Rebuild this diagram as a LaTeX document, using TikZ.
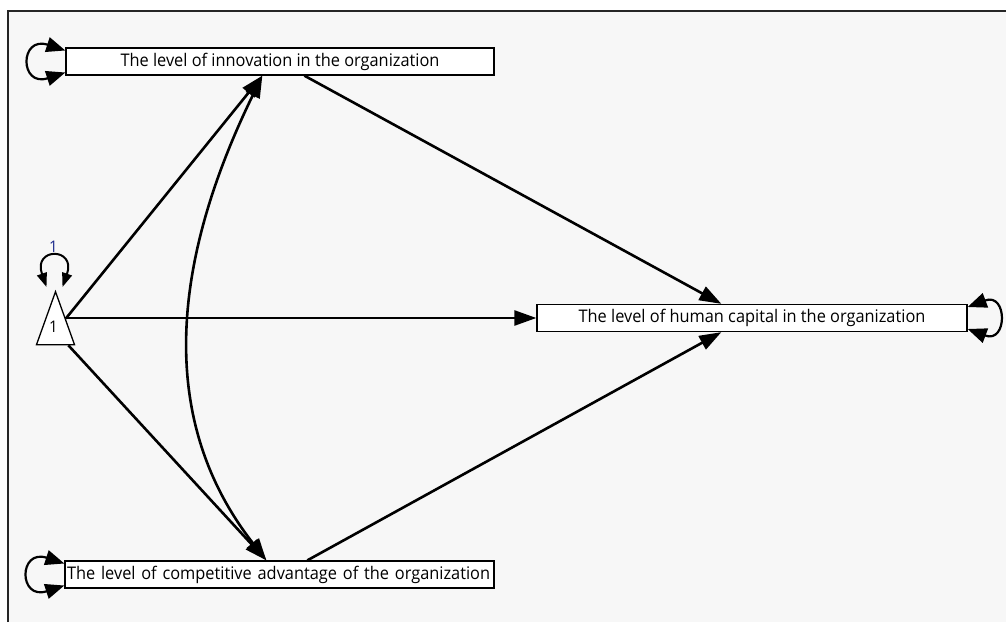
\documentclass[tikz,border=0pt]{standalone}
\usepackage{fontspec}
\setmainfont{Open Sans}[FakeStretch=0.94]
\usetikzlibrary{arrows.meta, shapes.geometric}

\definecolor{panel}{HTML}{F7F7F7}
\definecolor{varblue}{HTML}{1C2A8C}

\begin{document}
\begin{tikzpicture}[x=1pt, y=1pt, line width=2.6pt,
    varbox/.style={draw, line width=1.3pt, fill=white, minimum height=27pt, inner sep=2pt,
        font=\fontsize{17.4}{20}\selectfont},
    regpath/.style={-{Triangle[length=22pt, width=15pt]}},
    covpath/.style={{Triangle[length=22pt, width=15pt]}-{Triangle[length=22pt, width=15pt]}},
    varloop/.style={{Triangle[length=19pt, width=15pt]}-{Triangle[length=19pt, width=15pt]}, line width=2.2pt},
    smallloop/.style={{Triangle[length=14pt, width=10pt]}-{Triangle[length=14pt, width=10pt]}, line width=2pt}]
    \useasboundingbox (0, 0) rectangle (1006, 622);

    % grey panel with its frame on the left and top
    \fill[white] (0, 0) rectangle (1006, 622);
    \fill[panel] (8, 0) rectangle (1006, 611);
    \draw[line width=2pt, black!85] (8, 0) -- (8, 611) -- (1006, 611);

    % observed variables
    \node[varbox, minimum width=428pt] (innov) at (280, 560.5) {The level of innovation in the organization};
    \node[varbox, minimum width=430pt] (human) at (752, 304) {The level of human capital in the organization};
    \node[varbox, text width=425pt, align=left] (compet) at (279.5, 47.5) {The level of competitive advantage of the organization};

    % constant
    \node[isosceles triangle, shape border rotate=90, isosceles triangle stretches, anchor=apex,
        minimum width=38pt, minimum height=53pt, draw, line width=1.3pt, fill=white, inner sep=0pt] (one) at (55.5, 332) {};
    \node[font=\fontsize{16}{18}\selectfont] (onetxt) at ([xshift=-2pt, yshift=-37pt]one.apex) {1};
    \node[text=varblue, font=\fontsize{16}{18}\selectfont] (onevar) at ([xshift=-2pt, yshift=43pt]one.apex) {1};

    % regression paths
    \draw[regpath] (one) -- ([xshift=197pt]innov.south west);
    \draw[regpath] ([xshift=10pt, yshift=-28pt]one.apex) -- (human.west);
    \draw[regpath] (one) -- ([xshift=202pt]compet.north west);
    \draw[regpath] ([xshift=239pt]innov.south west) -- ([xshift=185pt]human.north west);
    \draw[regpath] ([xshift=243pt]compet.north west) -- ([xshift=185pt]human.south west);

    % covariance
    \draw[covpath] ([xshift=197pt]innov.south west) to[out=244, in=128] ([xshift=202pt]compet.north west);

    % variances
    \draw[varloop] ([yshift=11pt]innov.west) .. controls +(-46, 15) and +(-46, -15) .. ([yshift=-11pt]innov.west);
    \draw[varloop] ([yshift=11pt]compet.west) .. controls +(-46, 15) and +(-46, -15) .. ([yshift=-11pt]compet.west);
    \draw[varloop] ([yshift=11pt]human.east) .. controls +(40, 15) and +(40, -15) .. ([yshift=-11pt]human.east);
    \draw[smallloop] ([xshift=-9pt, yshift=3pt]one.apex) .. controls +(-14, 40) and +(14, 40) .. ([xshift=7pt, yshift=3pt]one.apex);
\end{tikzpicture}
\end{document}
